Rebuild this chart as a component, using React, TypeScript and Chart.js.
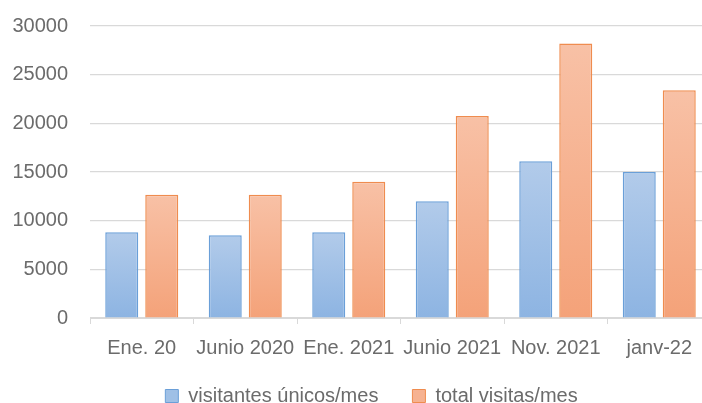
import React, { useEffect, useRef } from "react";
import { Chart, registerables } from "chart.js";

Chart.register(...registerables);

const categories = ["Ene. 20", "Junio 2020", "Ene. 2021", "Junio 2021", "Nov. 2021", "janv-22"];
const uniqueVisitors = [8800, 8500, 8800, 12000, 16100, 15000];
const totalVisits = [12650, 12650, 14000, 20750, 28200, 23400];
const seriesNames = ["visitantes únicos/mes", "total visitas/mes"];
const yTicks = [0, 5000, 10000, 15000, 20000, 25000, 30000];

const FONT = "'Liberation Sans', Arial, sans-serif";
const TEXT = "#6b6b6b";
const GRID = "#d9d9d9";

function gradientFill(light: string, dark: string) {
  return (ctx: any) => {
    if (ctx.type !== "data") return dark;
    const chart = ctx.chart;
    const y = chart.scales && chart.scales.y;
    if (!y || !chart.chartArea) return dark;
    const top = y.getPixelForValue(ctx.raw);
    const base = y.getPixelForValue(0);
    if (!isFinite(top) || !isFinite(base) || top === base) return dark;
    const g = chart.ctx.createLinearGradient(0, top, 0, base);
    g.addColorStop(0, light);
    g.addColorStop(1, dark);
    return g;
  };
}

const layoutTweak = {
  id: "layoutTweak",
  afterLayout(chart: any) {
    const l = chart.legend;
    if (l) {
      l.left += 16;
      l.right += 16;
    }
    const x = chart.scales && chart.scales.x;
    if (x) x.bottom += 30;
  },
};

export default function App() {
  const ref = useRef<HTMLCanvasElement>(null);
  useEffect(() => {
    if (!ref.current) return;
    const chart = new Chart(ref.current, {
      type: "bar",
      data: {
        labels: categories,
        datasets: [
          {
            label: seriesNames[0],
            data: uniqueVisitors,
            backgroundColor: gradientFill("#b2cbea", "#8db4e2"),
            borderColor: "#6a9fd8",
            borderWidth: 1.5,
            categoryPercentage: 0.773,
            barPercentage: 0.825,
          },
          {
            label: seriesNames[1],
            data: totalVisits,
            backgroundColor: gradientFill("#f8c1a6", "#f4a279"),
            borderColor: "#ef8c4f",
            borderWidth: 1.5,
            categoryPercentage: 0.773,
            barPercentage: 0.825,
          },
        ],
      },
      plugins: [layoutTweak],
      options: {
        responsive: false,
        animation: false,
        layout: { padding: { top: 26, right: 1, left: 0, bottom: -13 } },
        scales: {
          x: {
            afterFit: (s: any) => { s.height = 34; },
            grid: { drawOnChartArea: false, drawTicks: true, tickLength: 6, color: GRID, offset: true },
            border: { display: true, color: GRID, width: 1 },
            ticks: { color: TEXT, font: { family: FONT, size: 20 }, padding: 12, maxRotation: 0, autoSkip: false },
          },
          y: {
            min: 0,
            max: 30000,
            afterFit: (s: any) => { s.width = 90; s.paddingTop = 0; s.paddingBottom = 0; },
            afterBuildTicks: (s: any) => { s.ticks = yTicks.map((v) => ({ value: v })); },
            grid: { color: GRID, drawTicks: false, lineWidth: 1.2 },
            border: { display: false },
            ticks: { color: TEXT, font: { family: FONT, size: 20 }, padding: 22, callback: (v: any) => String(v) },
          },
        },
        plugins: {
          legend: {
            position: "bottom",
            labels: {
              color: TEXT,
              font: { family: FONT, size: 20 },
              boxWidth: 13,
              boxHeight: 13,
              padding: 34,
              generateLabels: () => [
                { text: seriesNames[0], fillStyle: "#9fc0e6", strokeStyle: "#6a9fd8", lineWidth: 1, datasetIndex: 0, fontColor: TEXT },
                { text: seriesNames[1], fillStyle: "#f6b291", strokeStyle: "#ef8c4f", lineWidth: 1, datasetIndex: 1, fontColor: TEXT },
              ] as any,
            },
          },
          tooltip: { enabled: false },
        },
      },
    });
    return () => chart.destroy();
  }, []);
  return (
    <div style={{ position: "absolute", left: 0, top: 0, width: 702, height: 403, overflow: "hidden", background: "#fff" }}>
      <canvas ref={ref} width={712} height={403} style={{ width: 712, height: 403, display: "block" }} />
    </div>
  );
}
